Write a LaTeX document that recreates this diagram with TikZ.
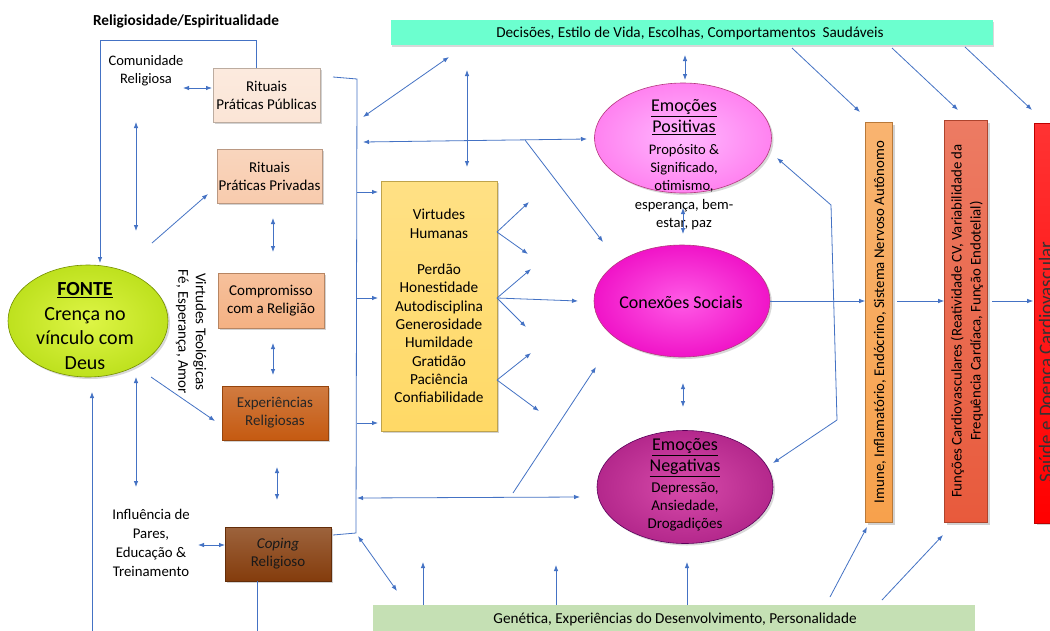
\documentclass[tikz,border=0pt]{standalone}
\usepackage{fontspec}
\setmainfont{Carlito}
\usetikzlibrary{arrows.meta,shapes.geometric,shadows,calc}
\definecolor{ablue}{HTML}{4472C4}
\definecolor{pubc}{HTML}{FBE5D6}
\definecolor{privc}{HTML}{F8CBAD}
\definecolor{compc}{HTML}{F4B183}
\definecolor{expc}{HTML}{C55A11}
\definecolor{copc}{HTML}{843C0C}
\definecolor{yelc}{HTML}{FFD966}
\definecolor{topc}{HTML}{6CFFCF}
\definecolor{botc}{HTML}{C5E0B4}
\definecolor{orac}{HTML}{F7A14C}
\definecolor{redoc}{HTML}{E85A3C}
\definecolor{redc}{HTML}{FF0000}
\newcommand\tsz{\fontsize{15}{18}\selectfont}
\begin{document}
\begin{tikzpicture}[x=1pt,y=-1pt,
  conn/.style={draw=ablue, line width=0.8pt},
  arr/.style={conn, -{Latex[length=6pt,width=4.5pt]}},
  darr/.style={conn, {Latex[length=6pt,width=4.5pt]}-{Latex[length=6pt,width=4.5pt]}},
  sbox/.style={rectangle, draw=#1!75!black, line width=0.6pt,
     top color=#1!80!white, bottom color=#1, inner sep=0.5pt,
     align=center, font=\tsz,
     drop shadow={shadow xshift=2pt, shadow yshift=-2pt, opacity=0.35}},
  ellnode/.style={ellipse, inner sep=0pt, draw=#1!70!black, line width=0.6pt,
     drop shadow={shadow xshift=2pt, shadow yshift=-2pt, opacity=0.3}},
  plain/.style={align=center, font=\tsz, inner sep=0pt},
]
\useasboundingbox (0,0) rectangle (1050,630);
\fill[white] (0,0) rectangle (1050,630);
\clip (0,0) rectangle (1050,630);

% ---- title and free texts
\node[plain, font=\fontsize{15.3}{18}\selectfont\bfseries] (title) at (186,21) {Religiosidade/Espiritualidade};
\node[plain, font=\fontsize{14.5}{18}\selectfont] (comun) at (146,71) {Comunidade\\Religiosa};
\node[plain, rotate=-90, font=\fontsize{15}{17.5}\selectfont] (teol) at (191,332) {Virtudes Teológicas\\Fé, Esperança, Amor};
\node[plain, font=\fontsize{14.8}{18.8}\selectfont] (influ) at (151,543) {Influência de\\Pares,\\Educação \&\\Treinamento};

% ---- FONTE
\node[ellnode=lime!60!olive, minimum width=160pt, minimum height=112pt,
      inner color={rgb,255:red,222;green,245;blue,70}, outer color={rgb,255:red,190;green,225;blue,30}] (fonte) at (88,321) {};
\node[plain, font=\fontsize{20}{24.7}\selectfont] (fonteT) at (85,326) {\textbf{\underline{FONTE}}\\Crença no\\vínculo com\\Deus};

% ---- left boxes
\node[sbox=pubc, minimum width=107pt, minimum height=54pt] (pub) at (266.5,95) {Rituais\\Práticas Públicas};
\node[sbox=privc, minimum width=105pt, minimum height=54pt] (priv) at (269.5,176) {Rituais\\Práticas Privadas};
\node[sbox=compc, minimum width=106pt, minimum height=55pt] (comp) at (271,300.5) {Compromisso\\com a Religião};
\node[sbox=expc, minimum width=106pt, minimum height=54pt, text=black!85] (exp) at (275,413) {Experiências\\Religiosas};
\node[sbox=copc, minimum width=106pt, minimum height=54pt, text=black!90] (cop) at (278,554) {\textit{Coping}\\Religioso};

% ---- yellow box
\node[sbox=yelc, minimum width=116pt, minimum height=250pt, font=\fontsize{15.3}{18.3}\selectfont] (virt) at (439,306)
  {Virtudes\\Humanas\\[18.3pt]Perdão\\Honestidade\\Autodisciplina\\Generosidade\\Humildade\\Gratidão\\Paciência\\Confiabilidade};

% ---- top and bottom bars
\node[rectangle, fill=topc, minimum width=602pt, minimum height=25pt, inner sep=0pt,
      drop shadow={shadow xshift=1pt, shadow yshift=-2pt, opacity=0.3}] (topbar) at (692,32.5) {};
\node[plain, font=\fontsize{15.2}{18}\selectfont] (topT) at (690,33) {Decisões, Estilo de Vida, Escolhas, Comportamentos\ \ Saudáveis};
\node[rectangle, fill=botc, minimum width=602pt, minimum height=32pt, inner sep=0pt] (botbar) at (674,621) {};
\node[plain, font=\fontsize{15.2}{18}\selectfont] (botT) at (675,619) {Genética, Experiências do Desenvolvimento, Personalidade};

% ---- ellipses
\node[ellnode=magenta, minimum width=177pt, minimum height=110pt,
      inner color={rgb,255:red,255;green,185;blue,255}, outer color={rgb,255:red,255;green,130;blue,240}] (pos) at (683,138) {};
\node[plain, font=\fontsize{18}{20.5}\selectfont] (posH) at (684,117) {\underline{Emoções}\\\underline{Positivas}};
\node[plain, font=\fontsize{14.6}{18.3}\selectfont] (posS) at (684,187) {Propósito \&\\Significado,\\otimismo,\\esperança, bem-\\estar, paz};

\node[ellnode=magenta, minimum width=176pt, minimum height=112pt,
      inner color={rgb,255:red,255;green,90;blue,230}, outer color={rgb,255:red,240;green,20;blue,200}] (con) at (682,301) {};
\node[plain, font=\fontsize{18}{20}\selectfont] (conT) at (681,302) {Conexões Sociais};

\node[ellnode=violet, minimum width=176pt, minimum height=113pt,
      inner color={rgb,255:red,215;green,75;blue,170}, outer color={rgb,255:red,180;green,40;blue,140}] (neg) at (685,487) {};
\node[plain, font=\fontsize{18}{21}\selectfont] (negH) at (685,457.5) {\underline{Emoções}\\\underline{Negativas}};
\node[plain, font=\fontsize{15}{18}\selectfont] (negS) at (685,507) {Depressão,\\Ansiedade,\\Drogadições};

% ---- right bars
\node[sbox=orac, minimum width=27pt, minimum height=400pt, inner sep=0pt] (ora) at (879,322.5) {};
\node[plain, rotate=90, font=\fontsize{14.8}{15}\selectfont] (oraT) at (880,322) {Imune, Inflamatório, Endócrino, Sistema Nervoso Autônomo};
\node[sbox=redoc, minimum width=43pt, minimum height=402pt, inner sep=0pt] (redo) at (966,321.5) {};
\node[plain, rotate=90, font=\fontsize{14.8}{19}\selectfont] (redoT) at (967,321) {Funções Cardiovasculares (Reatividade CV, Variabilidade da\\Frequência Cardíaca, Função Endotelial)};
\node[sbox=redc, minimum width=45pt, minimum height=400pt, inner sep=0pt] (red) at (1057,323) {};
\node[plain, rotate=90, font=\fontsize{19}{21}\selectfont, text=black!80] (redT) at (1047,362) {Saúde e Doença Cardiovascular};

% ---- coordinates
\coordinate (c1) at (256,40);
\coordinate (c2) at (100,40);
\coordinate (b1) at (257,650);
\coordinate (b2) at (92,650);
\coordinate (br0) at (333,77);
\coordinate (br1) at (357,79);
\coordinate (br2) at (356,533);
\coordinate (br3) at (333,535);
\coordinate (pv1) at (831,205);
\coordinate (pv2) at (837,420);
\coordinate (h1) at (897,301);
\coordinate (h2) at (992,301);

% ---- left connectors
\draw[arr] ($(pub.north)+(-10.5,0)$) -- (c1) -- (c2) -- (100,263);
\draw[arr] ($(cop.south)+(-21,0)$) -- (b1) -- (b2) -- (92,392);
\draw[darr] (136,122) -- (136,231);
\draw[darr] (136,377) -- (136,487);
\draw[darr] (183,88) -- (212,88);
\draw[arr] (152,243) -- (208,194);
\draw[arr] (151,377) -- (215,421);
\draw[darr] (198,545) -- (225,545);
\draw[darr] (273,218) -- (273,252);
\draw[darr] (273,343) -- (273,375);
\draw[darr] (277,467) -- (277,500);

% ---- bracket
\draw[conn] (br0) -- (br1) -- (br2) -- (br3);
\draw[arr] (357,192) -- (378,192);
\draw[arr] (357,298) -- (378,298);
\draw[arr] (357,423) -- (378,423);

% ---- middle connectors
\draw[darr] (363,117) -- (449,57);
\draw[darr] (363,142) -- (587,139);
\draw[darr] (467,70) -- (467,167);
\draw[arr] (525,140) -- (603,242);
\draw[arr] (497,232) -- (529,202);
\draw[arr] (497,232) -- (528,254);
\draw[arr] (497,298) -- (531,269);
\draw[arr] (497,298) -- (578,301);
\draw[arr] (497,298) -- (526,327);
\draw[arr] (497,380) -- (531,353);
\draw[arr] (497,380) -- (539,411);
\draw[arr] (513,493) -- (596,367);
\draw[darr] (357,498) -- (580,497);
\draw[darr] (358,536) -- (397,591);
\draw[arr] (423,605) -- (423,562);
\draw[arr] (556,605) -- (556,565);
\draw[arr] (687,605) -- (687,562);

% ---- ellipse connectors
\draw[darr] (685,55) -- (685,80);
\draw[darr] (683,208) -- (683,234);
\draw[darr] (683,383) -- (683,407);
\draw[arr] (con.east) -- (con.east -| ora.west);
\draw[arr] (h1) -- (h1 -| redo.west);
\draw[arr] (h2) -- ($(h2 -| red.west)+(-1,0)$);
\draw[arr] (pv1) -- (777,158);
\draw[conn] (pv1) -- (pv2);
\draw[arr] (pv2) -- (773,463);

% ---- bars connectors
\draw[arr] (792,48) -- (860,112);
\draw[arr] (892,48) -- (958,110);
\draw[arr] (965,47) -- (1032,110);
\draw[arr] (830,597) -- (867,527);
\draw[arr] (882,600) -- (943,535);
\end{tikzpicture}
\end{document}
